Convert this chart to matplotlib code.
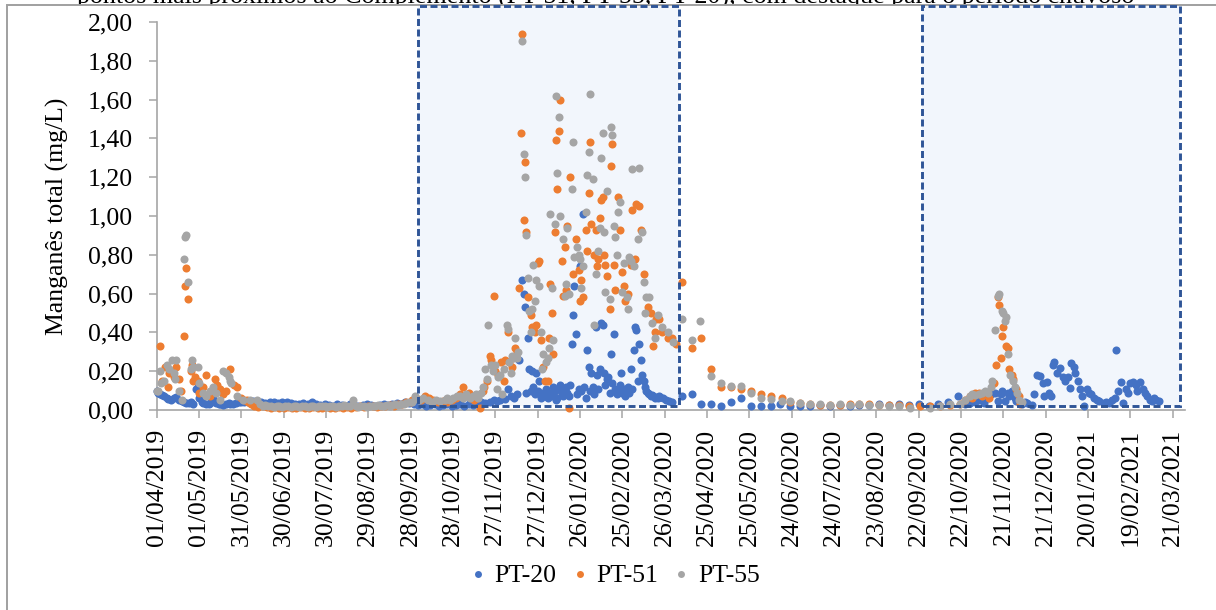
import matplotlib
matplotlib.use("Agg")
import matplotlib.pyplot as plt
import matplotlib.dates as mdates
from matplotlib.patches import Rectangle
from matplotlib.lines import Line2D
from matplotlib.ticker import FuncFormatter
import pandas as pd

plt.rcParams['font.family'] = ['Liberation Serif', 'DejaVu Serif']

START = "2019-04-01"
title_text = "pontos mais próximos ao Complemento (PT-51, PT-55, PT-20), com destaque para o período chuvoso"
y_label = "Manganês total (mg/L)"
series_names = ["PT-20", "PT-51", "PT-55"]
series_colors = ["#4472C4", "#ED7D31", "#A5A5A5"]

# day offsets (from 01/04/2019) and values, mg/L
pt20_days = [0, 1, 2, 4, 5, 7, 8, 10, 12, 14, 16, 18, 19, 21, 23, 24, 26, 28, 29, 30, 32, 33, 35, 37, 38, 40, 42, 44, 45, 47, 49, 51, 52, 54, 56, 58, 60,
             62, 65, 68, 71, 74, 77, 80, 83, 86, 89, 92, 95, 98, 101, 104, 107, 110, 113, 116, 119, 122, 125, 128, 131, 134, 137, 140, 143, 146, 149, 152, 155, 158, 161, 164, 167, 170, 173, 176, 179,
             182, 185, 188, 191, 194, 197, 200, 203, 206, 209, 212, 215, 218, 221, 224, 227, 230, 233, 236, 239, 241, 243, 245, 247, 249, 251, 253, 255, 257, 259, 260, 261, 262, 263, 264, 265, 266, 267, 268, 269, 270, 271, 272, 273, 274, 275, 276, 277, 278, 279, 280, 281, 282, 283, 284, 285, 286, 287, 288, 289, 290, 291, 292, 293, 294, 295, 296, 297, 298, 299, 300, 301, 302, 303, 304, 305, 306, 307, 308, 309, 310, 311, 312, 313, 314, 315, 316, 317, 318, 319, 320, 321, 322, 323, 324, 325, 326, 327, 328, 329, 330, 331, 332, 333, 334, 335, 336, 337, 338, 339, 340, 341, 342, 343, 344, 345, 346, 347, 348, 349, 350, 351, 352, 353, 354, 355, 356, 357, 359, 361, 363, 365,
             372, 379, 386, 393, 400, 407, 414, 421, 428, 435, 442, 449, 456, 463, 470, 477, 484, 491, 498, 505, 512, 519, 526, 533, 540, 547, 554, 561, 568, 573, 576, 580, 583, 586, 589, 591, 594, 596, 598, 599, 601, 603, 604, 606, 608, 609, 611, 613, 615, 617, 620, 622, 624, 626, 628, 629, 631, 632, 634, 635, 636, 638, 640, 642, 644, 646, 647, 648, 650, 651, 653, 654, 656, 657, 659, 661, 662, 664, 666, 668, 671, 673, 675, 677, 679, 680, 681, 683, 685, 687, 688, 690, 692, 694, 695, 697, 699, 700, 702, 704, 705, 707, 708, 710]
pt20_vals = [0.10, 0.09, 0.08, 0.075, 0.07, 0.06, 0.055, 0.05, 0.06, 0.065, 0.05, 0.045, 0.04, 0.035, 0.035, 0.04, 0.03, 0.11, 0.12, 0.06, 0.04, 0.035, 0.03, 0.03, 0.035, 0.06, 0.035, 0.03, 0.03, 0.025, 0.03, 0.035, 0.03, 0.03, 0.035, 0.04, 0.04,
             0.04, 0.04, 0.045, 0.04, 0.04, 0.035, 0.04, 0.04, 0.035, 0.04, 0.04, 0.035, 0.03, 0.03, 0.035, 0.03, 0.04, 0.03, 0.025, 0.03, 0.025, 0.02, 0.03, 0.025, 0.02, 0.03, 0.025, 0.02, 0.025, 0.03, 0.025, 0.02, 0.025, 0.03, 0.025, 0.03, 0.035, 0.03, 0.04, 0.035,
             0.03, 0.025, 0.03, 0.02, 0.025, 0.03, 0.02, 0.025, 0.03, 0.02, 0.025, 0.03, 0.02, 0.03, 0.025, 0.03, 0.04, 0.035, 0.04, 0.05, 0.045, 0.05, 0.06, 0.055, 0.11, 0.07, 0.06, 0.08, 0.26, 0.67, 0.60, 0.53, 0.09, 0.37, 0.21, 0.10, 0.20, 0.12, 0.08, 0.19, 0.10, 0.15, 0.06, 0.08, 0.09, 0.07, 0.11, 0.06, 0.08, 0.09, 0.07, 0.12, 0.10, 0.05, 0.06, 0.11, 0.13, 0.08, 0.07, 0.10, 0.12, 0.09, 0.07, 0.13, 0.34, 0.49, 0.64, 0.39, 0.08, 0.11, 0.74, 0.10, 1.01, 0.12, 0.06, 0.31, 0.22, 0.10, 0.19, 0.12, 0.08, 0.43, 0.18, 0.11, 0.21, 0.45, 0.44, 0.19, 0.13, 0.16, 0.17, 0.09, 0.29, 0.14, 0.39, 0.11, 0.08, 0.10, 0.13, 0.19, 0.09, 0.11, 0.07, 0.10, 0.12, 0.09, 0.21, 0.11, 0.31, 0.43, 0.41, 0.15, 0.34, 0.26, 0.18, 0.15, 0.12, 0.10, 0.09, 0.08, 0.07, 0.075, 0.07, 0.06, 0.065, 0.06, 0.07, 0.065, 0.06, 0.05, 0.045, 0.04,
             0.07, 0.08, 0.03, 0.03, 0.02, 0.04, 0.06, 0.02, 0.02, 0.02, 0.03, 0.02, 0.02, 0.02, 0.025, 0.02, 0.025, 0.02, 0.025, 0.025, 0.03, 0.025, 0.03, 0.025, 0.03, 0.02, 0.03, 0.04, 0.07, 0.03, 0.035, 0.04, 0.05, 0.035, 0.06, 0.08, 0.09, 0.045, 0.08, 0.10, 0.045, 0.09, 0.07, 0.10, 0.06, 0.045, 0.04, 0.03, 0.04, 0.035, 0.025, 0.08, 0.18, 0.175, 0.14, 0.07, 0.145, 0.09, 0.07, 0.23, 0.25, 0.19, 0.215, 0.17, 0.15, 0.17, 0.115, 0.24, 0.22, 0.19, 0.15, 0.11, 0.07, 0.02, 0.11, 0.09, 0.08, 0.06, 0.05, 0.045, 0.035, 0.04, 0.035, 0.05, 0.06, 0.31, 0.10, 0.145, 0.035, 0.11, 0.09, 0.14, 0.145, 0.13, 0.10, 0.145, 0.11, 0.09, 0.07, 0.05, 0.045, 0.06, 0.05, 0.045]

pt51_days = [2, 4, 6, 8, 9, 12, 14, 16, 17, 19, 20, 21, 22, 24, 25, 26, 27, 29, 30, 33, 35, 38, 41, 43, 45, 47, 49, 52, 55, 57, 60, 62, 64, 65, 67,
             69, 72, 75, 78, 81, 84, 87, 90, 93, 96, 99, 102, 105, 108, 111, 114, 117, 120, 123, 126, 129, 132, 135, 138, 141, 144, 147, 150, 153, 156, 159, 162, 165, 168, 171, 174, 177, 180,
             181, 184, 187, 190, 193, 196, 199, 203, 206, 209, 212, 215, 217, 219, 221, 223, 225, 227, 229, 231, 232, 234, 236, 237, 239, 240, 242, 244, 246, 247, 249, 250, 252, 254, 255, 257, 258, 259, 260, 261, 262, 263, 265, 266, 268, 269, 270, 271, 272, 274, 275, 277, 278, 279, 280, 281, 282, 283, 284, 285, 286, 287, 288, 289, 290, 291, 292, 293, 295, 297, 299, 300, 301, 302, 304, 305, 306, 307, 308, 310, 311, 312, 313, 314, 315, 316, 317, 318, 319, 321, 322, 323, 324, 325, 327, 328, 330, 331, 332, 334, 336, 337, 339, 340, 342, 343, 345, 348, 350, 352, 353, 354, 356, 358, 362, 365, 368,
             372, 379, 386, 393, 400, 407, 414, 421, 428, 435, 443, 449, 456, 463, 470, 477, 484, 491, 498, 505, 512, 519, 526, 533, 541, 548, 555, 562, 569, 573, 576, 578, 580, 583, 585, 588, 590, 593, 595, 596, 597, 598, 599, 600, 602, 603, 604, 606, 607, 609, 611, 612]
pt51_vals = [0.33, 0.15, 0.22, 0.12, 0.19, 0.17, 0.22, 0.16, 0.10, 0.38, 0.64, 0.73, 0.57, 0.20, 0.23, 0.15, 0.17, 0.15, 0.09, 0.12, 0.18, 0.07, 0.16, 0.13, 0.11, 0.08, 0.10, 0.21, 0.13, 0.12, 0.06, 0.05, 0.05, 0.04, 0.03,
             0.02, 0.015, 0.02, 0.015, 0.01, 0.015, 0.01, 0.01, 0.015, 0.01, 0.01, 0.015, 0.01, 0.01, 0.015, 0.01, 0.01, 0.015, 0.01, 0.01, 0.015, 0.01, 0.015, 0.01, 0.015, 0.02, 0.015, 0.02, 0.02, 0.015, 0.02, 0.02, 0.025, 0.02, 0.03, 0.03, 0.04, 0.04,
             0.05, 0.06, 0.05, 0.07, 0.06, 0.05, 0.04, 0.045, 0.04, 0.05, 0.06, 0.08, 0.12, 0.07, 0.09, 0.06, 0.05, 0.06, 0.01, 0.10, 0.12, 0.15, 0.28, 0.26, 0.59, 0.20, 0.18, 0.25, 0.15, 0.26, 0.40, 0.25, 0.22, 0.32, 0.30, 0.63, 1.43, 1.94, 0.98, 1.28, 0.92, 0.58, 0.49, 0.43, 0.40, 0.44, 0.76, 0.77, 0.36, 0.22, 0.15, 0.15, 0.37, 0.65, 0.50, 0.29, 0.92, 1.39, 1.14, 1.44, 1.60, 0.77, 0.59, 0.84, 0.62, 0.95, 0.01, 1.20, 0.70, 0.88, 0.72, 0.56, 0.67, 0.58, 0.93, 0.82, 1.12, 1.38, 0.96, 0.80, 0.93, 0.74, 0.78, 0.99, 1.08, 1.10, 0.80, 0.75, 0.69, 0.52, 1.26, 1.37, 0.75, 0.62, 1.10, 0.93, 0.71, 0.64, 0.56, 0.60, 0.75, 1.03, 0.78, 1.06, 1.05, 0.93, 0.70, 0.53, 0.50, 0.33, 0.40, 0.47, 0.47, 0.40, 0.37, 0.37, 0.34,
             0.66, 0.32, 0.37, 0.21, 0.12, 0.12, 0.11, 0.10, 0.08, 0.07, 0.06, 0.04, 0.035, 0.03, 0.025, 0.025, 0.025, 0.03, 0.03, 0.03, 0.025, 0.025, 0.025, 0.02, 0.02, 0.02, 0.02, 0.025, 0.03, 0.05, 0.07, 0.06, 0.09, 0.09, 0.07, 0.08, 0.06, 0.14, 0.23, 0.58, 0.54, 0.27, 0.38, 0.43, 0.33, 0.32, 0.21, 0.18, 0.16, 0.11, 0.07, 0.03]

pt55_days = [0, 1, 2, 3, 5, 7, 9, 11, 12, 13, 14, 16, 18, 19, 20, 21, 22, 24, 25, 26, 29, 30, 33, 35, 38, 40, 42, 45, 47, 49, 51, 52, 53, 57, 61, 66, 71,
             73, 75, 77, 79, 81, 83, 85, 87, 89, 91, 93, 95, 97, 99, 101, 103, 105, 107, 109, 111, 113, 115, 117, 119, 121, 123, 125, 127, 129, 131, 133, 135, 137, 139, 141, 143, 145, 147, 149, 151, 153, 155, 157, 159, 161, 163, 165, 167, 169, 171, 173, 175, 177, 179,
             181, 183, 186, 189, 192, 195, 198, 201, 204, 206, 208, 210, 213, 215, 217, 219, 222, 224, 226, 228, 230, 231, 233, 234, 235, 237, 238, 240, 241, 242, 243, 245, 246, 248, 249, 250, 251, 252, 253, 254, 255, 256, 259, 260, 261, 262, 263, 264, 265, 266, 267, 268, 269, 271, 272, 273, 274, 276, 277, 278, 279, 280, 281, 282, 283, 284, 285, 286, 288, 289, 290, 291, 292, 294, 295, 296, 298, 299, 300, 301, 302, 304, 305, 306, 307, 309, 310, 311, 313, 314, 315, 316, 317, 318, 319, 321, 322, 323, 324, 325, 326, 327, 328, 330, 331, 333, 334, 335, 336, 337, 338, 341, 342, 344, 345, 346, 347, 349, 351, 353, 355, 358, 362, 366,
             372, 379, 385, 393, 400, 407, 414, 421, 428, 435, 443, 449, 456, 463, 470, 477, 484, 491, 498, 505, 512, 519, 526, 534, 548, 555, 562, 569, 573, 576, 578, 580, 583, 585, 587, 589, 591, 592, 594, 596, 597, 599, 600, 601, 602, 603, 605, 607, 608, 610, 611, 613]
pt55_vals = [0.10, 0.10, 0.20, 0.14, 0.15, 0.23, 0.21, 0.26, 0.19, 0.16, 0.26, 0.10, 0.05, 0.78, 0.89, 0.90, 0.66, 0.21, 0.26, 0.22, 0.22, 0.14, 0.09, 0.07, 0.10, 0.12, 0.09, 0.05, 0.20, 0.19, 0.17, 0.15, 0.14, 0.07, 0.05, 0.05, 0.05,
             0.03, 0.02, 0.025, 0.02, 0.02, 0.015, 0.02, 0.02, 0.015, 0.02, 0.02, 0.015, 0.02, 0.02, 0.015, 0.02, 0.02, 0.015, 0.02, 0.02, 0.015, 0.02, 0.02, 0.02, 0.015, 0.02, 0.02, 0.015, 0.02, 0.02, 0.025, 0.02, 0.02, 0.05, 0.02, 0.015, 0.02, 0.02, 0.015, 0.02, 0.02, 0.02, 0.025, 0.02, 0.02, 0.025, 0.02, 0.025, 0.03, 0.025, 0.03, 0.03, 0.035, 0.04,
             0.04, 0.07, 0.05, 0.06, 0.05, 0.04, 0.05, 0.045, 0.05, 0.06, 0.05, 0.06, 0.07, 0.07, 0.06, 0.08, 0.06, 0.07, 0.08, 0.06, 0.09, 0.12, 0.21, 0.16, 0.44, 0.23, 0.20, 0.23, 0.11, 0.17, 0.18, 0.08, 0.21, 0.44, 0.42, 0.25, 0.19, 0.28, 0.27, 0.37, 0.27, 0.30, 1.90, 1.32, 1.20, 0.90, 0.68, 0.51, 0.40, 0.52, 0.75, 0.56, 0.67, 0.64, 0.40, 0.21, 0.29, 0.25, 0.27, 0.32, 1.01, 0.63, 0.36, 0.96, 1.62, 1.22, 1.51, 1.00, 0.88, 0.59, 0.65, 0.94, 0.60, 1.14, 1.38, 0.79, 0.84, 0.80, 0.78, 0.63, 0.74, 1.02, 1.21, 1.33, 1.63, 1.19, 0.44, 0.70, 0.82, 0.94, 1.30, 1.43, 0.92, 0.61, 1.13, 0.57, 1.46, 1.42, 0.95, 0.89, 0.80, 1.02, 1.07, 0.61, 0.76, 0.58, 0.52, 0.79, 0.77, 1.24, 0.74, 0.88, 1.25, 0.92, 0.66, 0.50, 0.58, 0.58, 0.45, 0.37, 0.49, 0.43, 0.40, 0.35,
             0.47, 0.36, 0.46, 0.175, 0.14, 0.125, 0.125, 0.09, 0.06, 0.055, 0.045, 0.045, 0.035, 0.03, 0.03, 0.025, 0.03, 0.025, 0.03, 0.025, 0.026, 0.02, 0.02, 0.01, 0.01, 0.02, 0.03, 0.03, 0.05, 0.07, 0.08, 0.075, 0.08, 0.09, 0.10, 0.09, 0.12, 0.15, 0.41, 0.59, 0.60, 0.51, 0.50, 0.46, 0.48, 0.29, 0.18, 0.15, 0.12, 0.09, 0.05, 0.04]

tick_dates = pd.date_range(START, periods=25, freq="30D")
highlight_periods = [("2019-10-03", "2020-04-05"), ("2020-09-24", "2021-03-26")]

start = pd.Timestamp(START)
def to_dates(days):
    return start + pd.to_timedelta(days, unit="D")

W, H = 1216, 610
fig = plt.figure(figsize=(W / 100, H / 100), dpi=100)
ax = fig.add_axes([156.7 / W, 1 - 410 / H, (1185 - 156.7) / W, (410 - 22) / H])
ax.set_zorder(1)

# highlighted periods
for a, b in highlight_periods:
    x0 = mdates.date2num(pd.Timestamp(a))
    x1 = mdates.date2num(pd.Timestamp(b))
    ax.add_patch(Rectangle((x0, 0.02), x1 - x0, 2.06, facecolor="#F2F6FC", edgecolor="none",
                           zorder=0, clip_on=False))
    ax.add_patch(Rectangle((x0, 0.02), x1 - x0, 2.06, facecolor="none", edgecolor="#2F5597",
                           linewidth=2.1, linestyle=(0, (2.4, 1.2)), zorder=5, clip_on=False))

for days, vals, c in [(pt20_days, pt20_vals, series_colors[0]),
                      (pt51_days, pt51_vals, series_colors[1]),
                      (pt55_days, pt55_vals, series_colors[2])]:
    ax.plot(to_dates(days), vals, linestyle="none", marker="o", markersize=5.8,
            markeredgewidth=0, color=c, zorder=3, clip_on=False)

ax.set_ylim(0, 2.0)
ax.set_xlim(mdates.date2num(start), mdates.date2num(start + pd.Timedelta(days=728.7)))
ax.set_yticks([i * 0.2 for i in range(11)])
ax.yaxis.set_major_formatter(FuncFormatter(lambda v, p: f"{v:.2f}".replace(".", ",")))
ax.set_xticks(mdates.date2num(tick_dates))
ax.set_xticklabels([d.strftime("%d/%m/%Y") for d in tick_dates], rotation=90)

for s in ["top", "right"]:
    ax.spines[s].set_visible(False)
for s in ["left", "bottom"]:
    ax.spines[s].set_color("#A6A6A6")
    ax.spines[s].set_linewidth(1.2)
ax.set_facecolor("none")
ax.tick_params(axis="y", direction="out", length=5.5, width=1.1, color="#A6A6A6",
               labelsize=18.5, pad=11.5, labelcolor="black")
ax.tick_params(axis="x", direction="out", length=5.8, width=1.1, color="#A6A6A6",
               labelsize=18.5, pad=8, labelcolor="black")

fig.text(57 / W, 1 - 216 / H, y_label, rotation=90, ha="center", va="center", fontsize=18.5,
         zorder=3)

handles = [Line2D([], [], linestyle="none", marker="o", markersize=5, markeredgewidth=0, color=c)
           for c in series_colors]
leg = fig.legend(handles, series_names, loc="center", bbox_to_anchor=(615 / W, 1 - 576 / H), ncol=3,
                 frameon=False, fontsize=18.5, handlelength=0.6, handletextpad=0.35, columnspacing=0.6)
leg.set_zorder(3)

# caption text above the chart, partly hidden by the chart's white frame
fig.text(77 / W, 1 - 4 / H, title_text, ha="left", va="baseline", fontsize=18.7, zorder=-2)
fig.add_artist(Rectangle((7.3 / W, -0.02), 1.0, 1.02 - 5.3 / H, transform=fig.transFigure,
                         facecolor="white", edgecolor="#A0A0A0", linewidth=1.4, zorder=-1))

fig.savefig("out.png", dpi=100)
